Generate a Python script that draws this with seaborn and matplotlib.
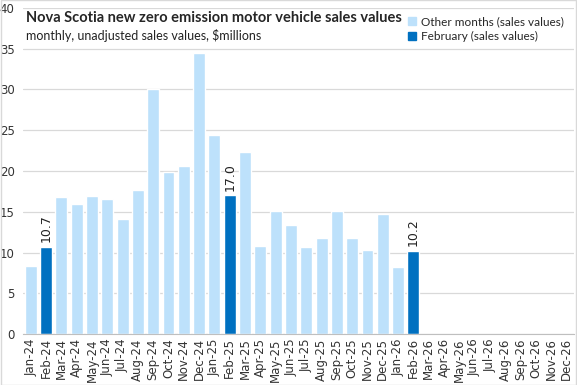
import numpy as np
import pandas as pd
import matplotlib.pyplot as plt
import seaborn as sns

# months shown on the axis (data only runs to Feb-26)
months = [f"{m}-{y}" for y in ("24", "25", "26")
          for m in ("Jan", "Feb", "Mar", "Apr", "May", "Jun",
                    "Jul", "Aug", "Sep", "Oct", "Nov", "Dec")]
sales = [8.4, 10.7, 16.8, 15.9, 16.9, 16.6, 14.1, 17.7, 30.0, 19.9, 20.6, 34.5,
         24.4, 17.0, 22.3, 10.8, 15.1, 13.4, 10.7, 11.8, 15.1, 11.8, 10.3, 14.7,
         8.2, 10.2]
sales = sales + [np.nan] * (len(months) - len(sales))

other_col = "#BDE1FB"
feb_col = "#0070C0"

df = pd.DataFrame({"month": months, "sales": sales})
df["serie"] = np.where(df["month"].str.startswith("Feb"),
                       "February (sales values)", "Other months (sales values)")
df = df.dropna()

sns.set_style("white")
plt.rcParams["font.family"] = ["DejaVu Sans"]

fig = plt.figure(figsize=(5.77, 3.85), dpi=100)
ax = fig.add_axes([0.040, 0.132, 0.955, 0.848])

sns.barplot(data=df, x="month", y="sales", hue="serie", order=months,
            hue_order=["Other months (sales values)", "February (sales values)"],
            palette=[other_col, feb_col], dodge=False, width=0.78,
            saturation=1, ax=ax, legend=False)

# labels on February bars
for i, (m, v) in enumerate(zip(months, sales)):
    if m.startswith("Feb") and not np.isnan(v):
        ax.text(i, v + 0.6, f"{v:.1f}", rotation=90, ha="center", va="bottom",
                fontsize=9, color="#222222")

ax.set_ylim(0, 40)
ax.set_yticks(range(0, 41, 5))
ax.set_xlim(-0.5, len(months) - 0.5)
ax.set_xlabel("")
ax.set_ylabel("")
ax.yaxis.grid(True, color="#D9D9D9", linewidth=0.9)
ax.set_axisbelow(True)
for s in ("left", "right", "top"):
    ax.spines[s].set_visible(False)
ax.spines["bottom"].set_color("#BFBFBF")
ax.tick_params(axis="y", length=0, labelsize=8.5, colors="#333333", pad=6)
ax.tick_params(axis="x", length=0, labelsize=8.5, colors="#333333", rotation=90, pad=3)
ax.set_xticks(range(len(months)))
ax.set_xticklabels(months)
# excel-like tick marks between categories
ax.set_xticks(np.arange(-0.5, len(months), 1), minor=True)
ax.tick_params(axis="x", which="minor", length=4, color="#BFBFBF")

fig.text(0.045, 0.953, "Nova Scotia new zero emission motor vehicle sales values",
         fontsize=10.5, fontweight="bold", family="Lato", ha="left", va="center")
fig.text(0.045, 0.908, "monthly, unadjusted sales values, $millions",
         fontsize=9, family="Lato", ha="left", va="center", color="#222222")

handles = [plt.Rectangle((0, 0), 1, 1, color=other_col),
           plt.Rectangle((0, 0), 1, 1, color=feb_col)]
fig.legend(handles, ["Other months (sales values)", "February (sales values)"],
           loc="upper right", bbox_to_anchor=(0.995, 0.985), frameon=False,
           prop={"family": "Lato", "size": 8.5}, handlelength=0.7,
           handleheight=0.7, handletextpad=0.4, labelspacing=0.3)

fig.patches.append(plt.Rectangle((0.001, 0.001), 0.998, 0.998, transform=fig.transFigure,
                                 fill=False, edgecolor="#D9D9D9", linewidth=1))

fig.savefig("out.png", dpi=100)
